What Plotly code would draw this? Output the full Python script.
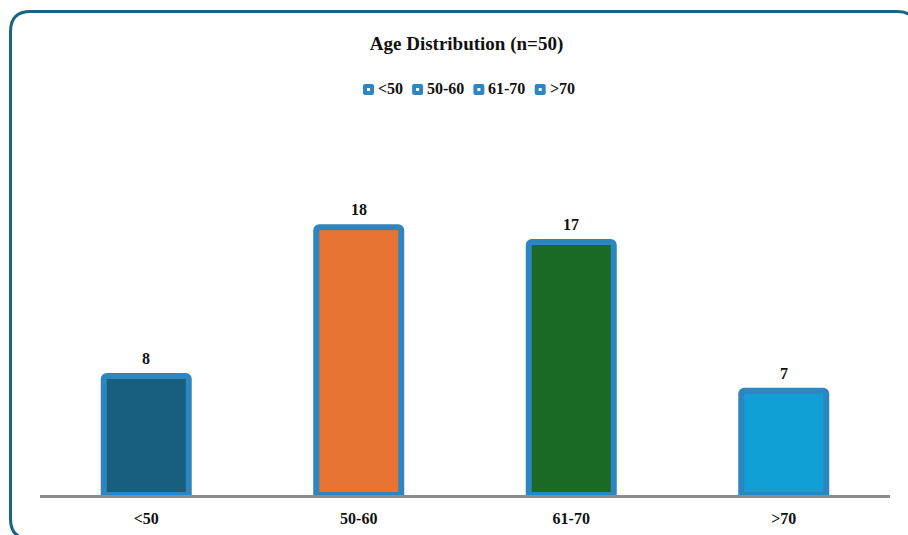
import plotly.graph_objects as go

categories = ["<50", "50-60", "61-70", ">70"]
counts = [8, 18, 17, 7]
fill_colors = ["#175e7f", "#e87433", "#1b6b27", "#129fd6"]
title_text = "Age Distribution (n=50)"

BORDER_BLUE = "#2e86c1"
FONT = "Liberation Serif"

W, H = 908, 535
ML, MR, MT, MB = 40, 18, 132, 40
PW, PH = W - ML - MR, H - MT - MB

def px_to_paper_x(px):
    return (px - ML) / PW

def px_to_paper_y(py):
    return (H - MB - py) / PH

fig = go.Figure()

for cat, val, col in zip(categories, counts, fill_colors):
    fig.add_trace(go.Bar(
        x=[cat], y=[val], name=cat, showlegend=False,
        marker=dict(color=col, line=dict(color=BORDER_BLUE, width=6), cornerradius=3),
        width=0.4, hoverinfo="x+y",
    ))

# value labels
for cat, val in zip(categories, counts):
    fig.add_annotation(x=cat, y=val, text=str(val), showarrow=False,
                       yanchor="bottom", yshift=7,
                       font=dict(family=FONT, size=16, color="#111", weight="bold"))

# custom legend (icon + label) built from the categories
char_w = {"<": 9.1, ">": 9.1, "-": 5.3}
def text_width(s, size=16):
    return sum(char_w.get(c, 8.0) for c in s) * size / 16

X = px_to_paper_x
Y = px_to_paper_y
LEG_Y = 89.5
cx = 363
for cat in categories:
    ix0, ix1 = cx, cx + 11
    iy0, iy1 = LEG_Y - 5.5, LEG_Y + 5.5
    r = 2
    p = (f"M {X(ix0+r)},{Y(iy0)} L {X(ix1-r)},{Y(iy0)} Q {X(ix1)},{Y(iy0)} {X(ix1)},{Y(iy0+r)} "
         f"L {X(ix1)},{Y(iy1-r)} Q {X(ix1)},{Y(iy1)} {X(ix1-r)},{Y(iy1)} "
         f"L {X(ix0+r)},{Y(iy1)} Q {X(ix0)},{Y(iy1)} {X(ix0)},{Y(iy1-r)} "
         f"L {X(ix0)},{Y(iy0+r)} Q {X(ix0)},{Y(iy0)} {X(ix0+r)},{Y(iy0)} Z")
    fig.add_shape(type="path", path=p, xref="paper", yref="paper",
                  fillcolor=BORDER_BLUE, line=dict(width=0))
    fig.add_shape(type="rect", xref="paper", yref="paper",
                  x0=X(cx + 4), x1=X(cx + 7), y0=Y(LEG_Y - 1.5), y1=Y(LEG_Y + 1.5),
                  fillcolor="white", line=dict(width=0))
    tx = cx + 14
    fig.add_annotation(x=X(tx), y=Y(LEG_Y - 1), xref="paper", yref="paper",
                       text=cat, showarrow=False, xanchor="left", yanchor="middle",
                       xshift=-1,
                       font=dict(family=FONT, size=16, color="#111", weight="bold"))
    cx = tx + text_width(cat) + 10

# rounded container border
x0, x1 = X(10.5), X(917)
y0, y1 = Y(11.5), Y(539)
rx = 20 / PW
ry = 20 / PH
path = (f"M {x0+rx},{y0} L {x1-rx},{y0} Q {x1},{y0} {x1},{y0-ry} "
        f"L {x1},{y1+ry} Q {x1},{y1} {x1-rx},{y1} "
        f"L {x0+rx},{y1} Q {x0},{y1} {x0},{y1+ry} "
        f"L {x0},{y0-ry} Q {x0},{y0} {x0+rx},{y0} Z")
fig.add_shape(type="path", path=path, xref="paper", yref="paper",
              line=dict(color="#1a6482", width=3), layer="below")

fig.update_layout(
    width=W, height=H,
    margin=dict(l=ML, r=MR, t=MT, b=MB, autoexpand=False),
    paper_bgcolor="white", plot_bgcolor="white",
    title=dict(text=title_text, x=X(466.5), xref="paper", xanchor="center",
               y=1 - 43 / H, yanchor="middle",
               font=dict(family=FONT, size=19, color="#111", weight="bold")),
    showlegend=False,
    xaxis=dict(showline=True, linecolor="#8c8c8c", linewidth=3, showgrid=False,
               zeroline=False, ticks="", ticklabelstandoff=7, automargin=False,
               tickfont=dict(family=FONT, size=16, color="#111", weight="bold"),
               fixedrange=True),
    yaxis=dict(range=[0, 24.4], visible=False, showgrid=False, zeroline=False,
               fixedrange=True, automargin=False),
)

fig.write_html("out.html")
